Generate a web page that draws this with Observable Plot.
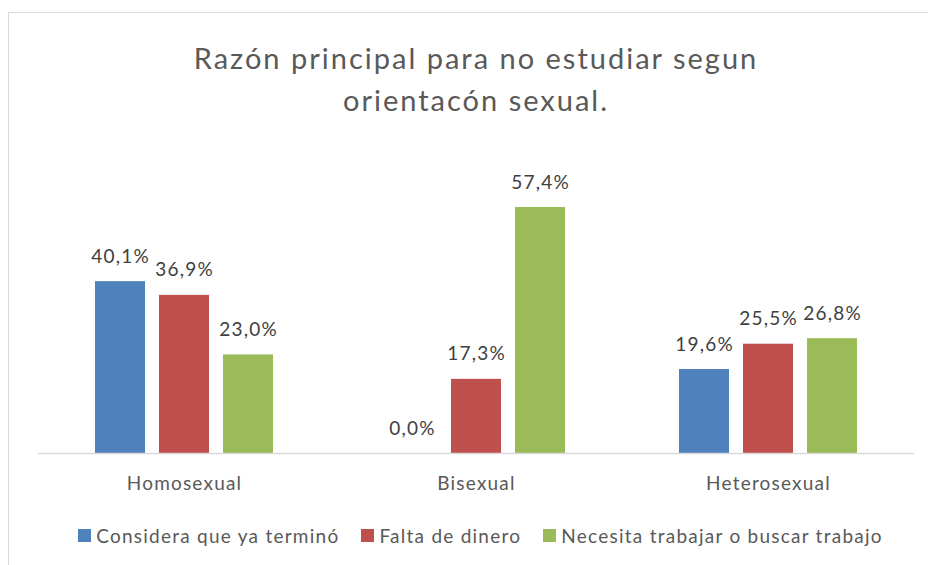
<!DOCTYPE html>
<html><head><meta charset="utf-8">
<script src="https://cdn.jsdelivr.net/npm/d3@7"></script>
<script src="https://cdn.jsdelivr.net/npm/@observablehq/plot@0.6"></script>
<style>
  html, body { margin: 0; padding: 0; background: #fff; }
  body { width: 928px; height: 565px; overflow: hidden; position: relative; font-family: Lato, "Open Sans", sans-serif; }
  #frame { position: absolute; left: 8px; top: 12px; width: 1000px; height: 1000px; border-left: 1.5px solid #d9d9d9; border-top: 1.5px solid #d9d9d9; box-sizing: border-box; }
  #title { position: absolute; left: 0; top: 37px; width: 952px; text-align: center; font-size: 29px; letter-spacing: 2px; line-height: 42px; color: #595959; }
  #chart { position: absolute; left: 0; top: 130px; }
  #legend { position: absolute; left: 0; top: 524px; width: 961px; display: flex; justify-content: center; align-items: center; font-size: 19px; letter-spacing: 1.25px; color: #595959; }
  .item { display: flex; align-items: center; margin: 0 11px; }
  .sw { width: 13px; height: 13px; margin-right: 5px; }
</style>
</head><body>
<div id="frame"></div>
<div id="title">Razón principal para no estudiar segun<br>orientacón sexual.</div>
<div id="chart"></div>
<div id="legend"></div>
<script>
const categories = ["Homosexual", "Bisexual", "Heterosexual"];
const series = ["Considera que ya terminó", "Falta de dinero", "Necesita trabajar o buscar trabajo"];
const colors = ["#4f81bd", "#c0504d", "#9bbb59"];
const considera = [40.1, 0.0, 19.6];
const falta = [36.9, 17.3, 25.5];
const necesita = [23.0, 57.4, 26.8];
const yMax = 70;

const valuesBySeries = [considera, falta, necesita];
const data = [];
categories.forEach((c, i) => {
  series.forEach((s, j) => data.push({cat: c, series: s, value: valuesBySeries[j][i]}));
});
const fmt = v => d3.format(".1f")(v).replace(".", ",") + "%";

const chart = Plot.plot({
  width: 928,
  height: 380,
  marginTop: 23,
  marginBottom: 57,
  marginLeft: 38,
  marginRight: 14,
  style: {fontFamily: "Lato, 'Open Sans', sans-serif", background: "transparent", overflow: "visible", letterSpacing: "1.2px"},
  fx: {domain: categories, padding: 0, label: null},
  x: {domain: series, paddingInner: 14 / 65, paddingOuter: 0.854, axis: null},
  y: {domain: [0, yMax], axis: null},
  color: {domain: series, range: colors},
  marks: [
    Plot.barY(data, {fx: "cat", x: "series", y: "value", fill: "series"}),
    Plot.ruleY([0], {stroke: "#d9d9d9", strokeWidth: 1.5}),
    Plot.text(data, {fx: "cat", x: "series", y: "value", text: d => fmt(d.value), dy: -25, fontSize: 19, fill: "#404040"}),
    Plot.axisFx({anchor: "bottom", tickSize: 0, tickPadding: 23, fontSize: 19, color: "#595959", label: null})
  ]
});
document.getElementById("chart").appendChild(chart);

const legend = document.getElementById("legend");
series.forEach((s, j) => {
  const item = document.createElement("div");
  item.className = "item";
  const sw = document.createElement("div");
  sw.className = "sw";
  sw.style.background = colors[j];
  const t = document.createElement("span");
  t.textContent = s;
  item.appendChild(sw);
  item.appendChild(t);
  legend.appendChild(item);
});
</script>
</body></html>
